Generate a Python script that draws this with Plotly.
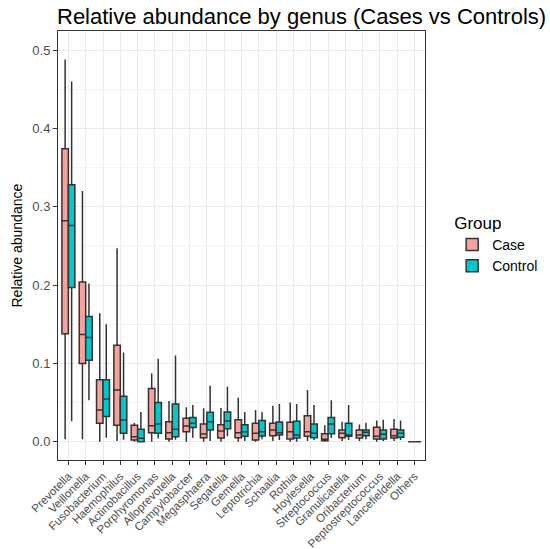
import plotly.graph_objects as go

genera = ["Prevotella", "Veillonella", "Fusobacterium", "Haemophilus", "Actinobacillus",
          "Porphyromonas", "Alloprevotella", "Campylobacter", "Megasphaera", "Segatella",
          "Gemella", "Leptotrichia", "Schaalia", "Rothia", "Hoylesella", "Streptococcus",
          "Granulicatella", "Oribacterium", "Peptostreptococcus", "Lancefieldella", "Others"]

case_low = [0.003, 0.003, 0.000, 0.001, 0.000, 0.000, 0.000, 0.000, 0.000, 0.000,
            0.000, 0.000, 0.001, 0.000, 0.001, 0.000, 0.001, 0.001, 0.000, 0.001, 0.0]
case_q1 = [0.138, 0.100, 0.0235, 0.021, 0.002, 0.0115, 0.0035, 0.0128, 0.005, 0.0047,
           0.005, 0.002, 0.0077, 0.0035, 0.0068, 0.0013, 0.005, 0.0047, 0.0035, 0.0047, 0.0]
case_med = [0.282, 0.137, 0.0405, 0.066, 0.0064, 0.0205, 0.0115, 0.020, 0.0098, 0.0137,
            0.0115, 0.0107, 0.015, 0.0128, 0.0128, 0.003, 0.0107, 0.0085, 0.0068, 0.0077, 0.0]
case_q3 = [0.374, 0.204, 0.079, 0.123, 0.021, 0.068, 0.0255, 0.030, 0.0226, 0.0217,
           0.028, 0.0235, 0.0235, 0.0248, 0.033, 0.010, 0.015, 0.015, 0.0183, 0.0158, 0.0]
case_high = [0.488, 0.320, 0.164, 0.247, 0.024, 0.087, 0.052, 0.044, 0.0426, 0.043,
             0.056, 0.0405, 0.046, 0.050, 0.066, 0.021, 0.0256, 0.022, 0.027, 0.029, 0.0]

ctrl_low = [0.026, 0.053, 0.005, 0.0025, 0.000, 0.004, 0.0025, 0.005, 0.001, 0.0068,
            0.001, 0.003, 0.002, 0.000, 0.002, 0.0047, 0.002, 0.003, 0.001, 0.002, 0.0]
ctrl_q1 = [0.197, 0.104, 0.032, 0.0107, 0.000, 0.0107, 0.0064, 0.018, 0.015, 0.0166,
           0.0068, 0.0073, 0.0085, 0.0047, 0.005, 0.010, 0.0068, 0.0077, 0.0035, 0.0055, 0.0]
ctrl_med = [0.276, 0.133, 0.0545, 0.0277, 0.0043, 0.0226, 0.0158, 0.0235, 0.0255, 0.0264,
            0.0128, 0.0128, 0.0115, 0.0085, 0.0107, 0.0226, 0.0085, 0.012, 0.0094, 0.0107, 0.0]
ctrl_q3 = [0.328, 0.160, 0.079, 0.058, 0.0158, 0.050, 0.048, 0.031, 0.0375, 0.038,
           0.0217, 0.027, 0.025, 0.026, 0.0226, 0.031, 0.0235, 0.015, 0.015, 0.015, 0.0]
ctrl_high = [0.460, 0.202, 0.150, 0.114, 0.038, 0.106, 0.110, 0.047, 0.0715, 0.070,
             0.038, 0.038, 0.048, 0.048, 0.047, 0.053, 0.047, 0.0243, 0.028, 0.027, 0.0]

y_ticks = [0.0, 0.1, 0.2, 0.3, 0.4, 0.5]
y_tick_text = ["0.0", "0.1", "0.2", "0.3", "0.4", "0.5"]

FONT = "Liberation Sans, Arial, sans-serif"

fig = go.Figure()
series = [
    ("Case", case_low, case_q1, case_med, case_q3, case_high, "#F8A09A"),
    ("Control", ctrl_low, ctrl_q1, ctrl_med, ctrl_q3, ctrl_high, "#00C8CC"),
]
for name, lo, q1, med, q3, hi, fill in series:
    fig.add_trace(go.Box(
        x=genera, lowerfence=lo, q1=q1, median=med, q3=q3, upperfence=hi,
        name=name, fillcolor=fill, line=dict(color="#333333", width=1.5),
        whiskerwidth=0, boxpoints=False, hoverinfo="skip",
    ))

fig.update_layout(
    width=550, height=549,
    margin=dict(l=58, r=125, t=31, b=89, autoexpand=False),
    paper_bgcolor="white", plot_bgcolor="white",
    boxmode="group", boxgap=0.25, boxgroupgap=0,
    font=dict(family=FONT, color="#000000"),
    title=dict(text="Relative abundance by genus (Cases vs Controls)",
               x=57 / 550, xanchor="left", y=1 - 16 / 549, yanchor="middle",
               font=dict(size=22, color="#000000", family=FONT)),
    legend=dict(title=dict(text="Group", font=dict(size=17, color="#000000")),
                font=dict(size=14, color="#000000"),
                x=1.074, xanchor="left", y=0.59, yanchor="top",
                bgcolor="rgba(0,0,0,0)"),
    showlegend=True,
)

fig.update_xaxes(
    type="category", range=[-0.6, 20.6], automargin=False,
    tickangle=-45, tickfont=dict(size=11.5, color="#4D4D4D"),
    ticks="outside", ticklen=4, tickcolor="#333333",
    showgrid=True, gridcolor="#EBEBEB", gridwidth=1,
    showline=True, linecolor="#333333", linewidth=1, mirror=True,
    zeroline=False,
)
fig.update_yaxes(
    range=[-0.0234, 0.5245], automargin=False,
    tickvals=y_ticks, ticktext=y_tick_text,
    tickfont=dict(size=13, color="#4D4D4D"),
    ticks="outside", ticklen=4, tickcolor="#333333",
    showgrid=True, gridcolor="#EBEBEB", gridwidth=1,
    minor=dict(tickvals=[0.05, 0.15, 0.25, 0.35, 0.45], showgrid=True,
               gridcolor="#F3F3F3", gridwidth=1, ticks=""),
    showline=True, linecolor="#333333", linewidth=1, mirror=True,
    zeroline=False,
)

fig.add_annotation(text="Relative abundance", textangle=-90,
                   xref="paper", yref="paper", x=-(58 - 16) / 367, y=0.5,
                   xanchor="center", yanchor="middle", showarrow=False,
                   font=dict(size=14, color="#000000", family=FONT))

fig.write_html("out.html", config={"displayModeBar": False},
               post_script="document.body.style.margin='0';document.body.style.overflow='hidden';")
